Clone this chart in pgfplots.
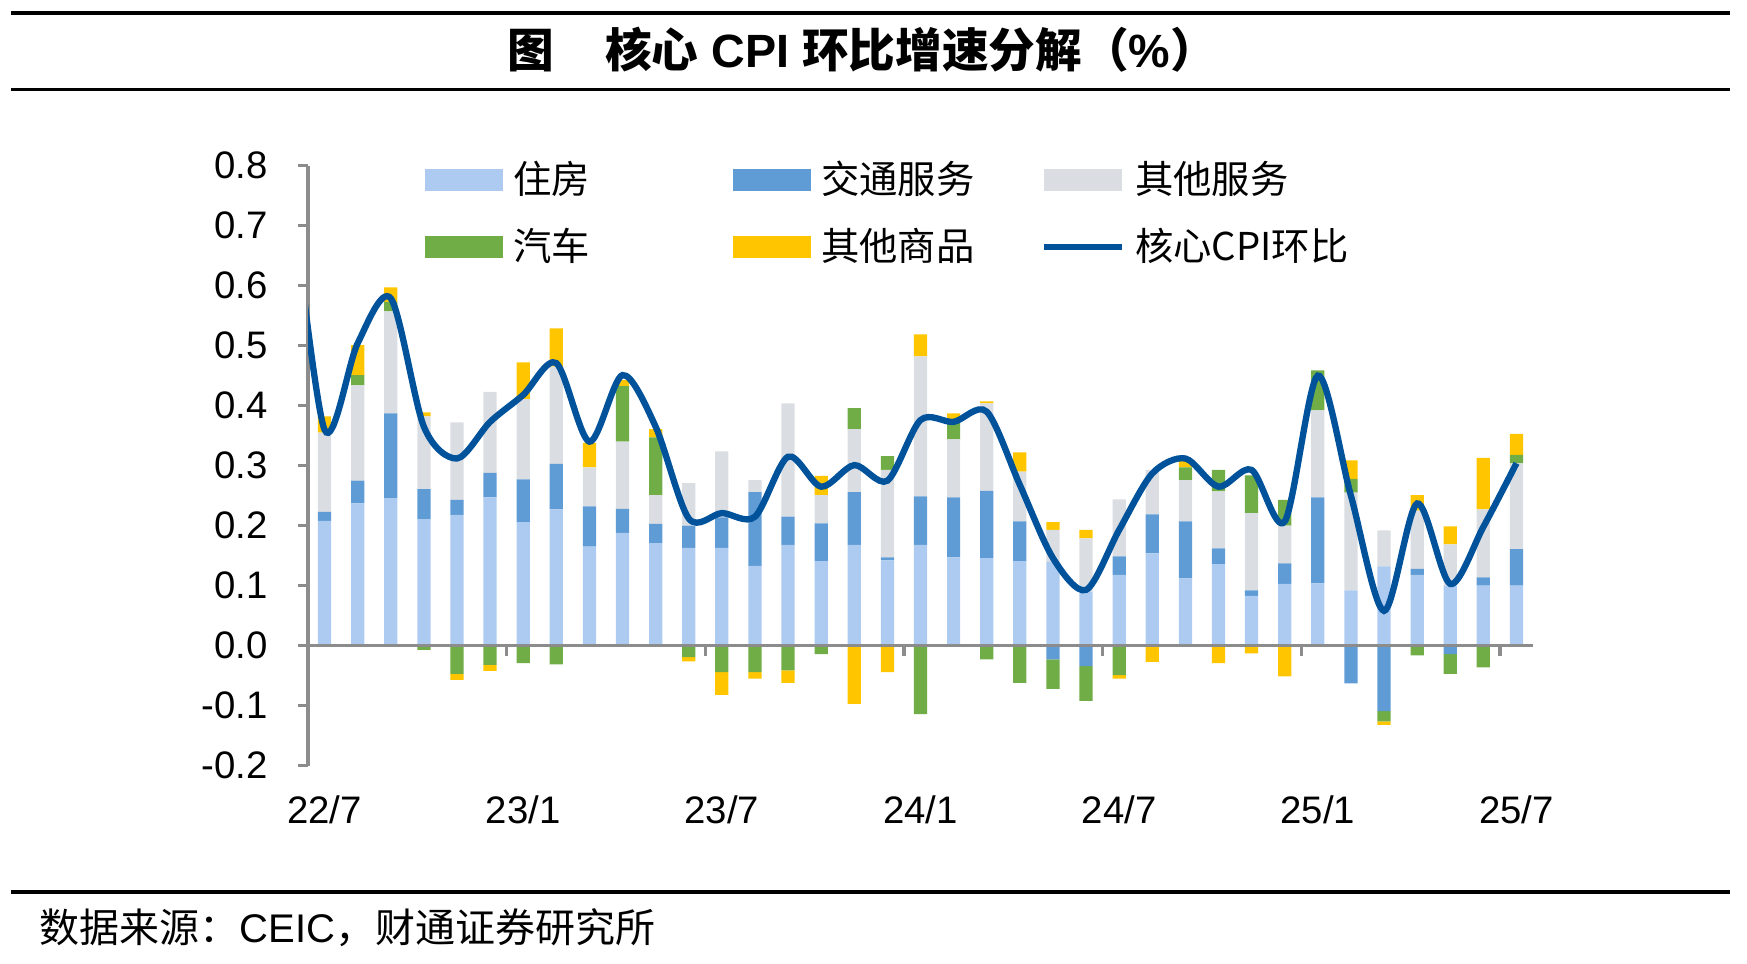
\documentclass[border=0pt]{standalone}
\usepackage{pgfplots}
\pgfplotsset{compat=1.18}
\usepackage{pgfplotstable}
\usepackage{fontspec}
\setmainfont{Liberation Sans}
\newfontfamily\cjk{Noto Sans CJK SC}

\definecolor{housing}{HTML}{ADCBF0}
\definecolor{transport}{HTML}{5F9BD5}
\definecolor{othsvc}{HTML}{DADDE2}
\definecolor{car}{HTML}{70AD47}
\definecolor{othgoods}{HTML}{FFC600}
\definecolor{coreline}{HTML}{00529B}
\definecolor{axisgray}{HTML}{8C8C8C}

% contributions by month, 0 = 2022/7 ... 36 = 2025/7
\pgfplotstableread{
i  lb    mb     gs    car    og
0  0.208 0.015  0.132 0      0.027
1  0.237 0.038  0.159 0.017  0.050
2  0.246 0.141  0.170 0.016  0.024
3  0.211 0.050  0.121 -0.007 0.007
4  0.218 0.025  0.129 -0.047 -0.010
5  0.247 0.041  0.135 -0.032 -0.010
6  0.206 0.071  0.134 -0.029 0.061
7  0.227 0.076  0.162 -0.031 0.064
8  0.165 0.067  0.065 0      0.041
9  0.188 0.040  0.112 0.093  0.010
10 0.171 0.032  0.048 0.096  0.014
11 0.163 0.037  0.071 -0.019 -0.007
12 0.163 0.051  0.110 -0.044 -0.038
13 0.133 0.123  0.020 -0.044 -0.011
14 0.168 0.047  0.189 -0.041 -0.021
15 0.141 0.063  0.047 -0.014 0.032
16 0.168 0.088  0.105 0.035  -0.097
17 0.142 0.005  0.146 0.023  -0.044
18 0.168 0.081  0.233 -0.114 0.037
19 0.147 0.100  0.097 0.032  0.011
20 0.146 0.112  0.146 -0.023 0.003
21 0.141 0.066  0.083 -0.062 0.032
22 0.140 -0.023 0.053 -0.049 0.013
23 0.090 -0.034 0.089 -0.058 0.014
24 0.118 0.031  0.095 -0.049 -0.006
25 0.154 0.065  0.074 0      -0.027
26 0.112 0.095  0.069 0.021  0.012
27 0.136 0.026  0.095 0.036  -0.029
28 0.083 0.009  0.129 0.063  -0.013
29 0.103 0.034  0.063 0.043  -0.051
30 0.104 0.143  0.145 0.067  0
31 0.092 -0.063 0.163 0.023  0.031
32 0.132 -0.109 0.060 -0.017 -0.006
33 0.118 0.010  0.097 -0.016 0.026
34 0.100 -0.014 0.069 -0.033 0.030
35 0.100 0.014  0.113 -0.036 0.086
36 0.100 0.061  0.143 0.014  0.035
}\bars

% core CPI m/m; the point at -1 (2022/6) is clipped by the axis
\pgfplotstableread{
i  core
-1 0.76
0  0.360
1  0.504
2  0.579
3  0.365
4  0.312
5  0.373
6  0.418
7  0.471
8  0.340
9  0.451
10 0.365
11 0.212
12 0.221
13 0.215
14 0.315
15 0.265
16 0.301
17 0.275
18 0.376
19 0.373
20 0.390
21 0.268
22 0.146
23 0.093
24 0.193
25 0.287
26 0.312
27 0.265
28 0.293
29 0.207
30 0.450
31 0.250
32 0.058
33 0.237
34 0.103
35 0.198
36 0.304
}\core

\pgfplotsset{
  frame/.style={scale only axis, width=367.5pt, height=180pt,
    xmin=-0.5, xmax=36.5, ymin=-0.2, ymax=0.8,
    at={(92.4pt,-229.7pt)}, anchor=south west},
  barleg/.style={legend image code/.code={\fill[##1] (0pt,-3.3pt) rectangle (23.4pt,3.3pt);}},
  lineleg/.style={legend image code/.code={\draw[##1] (0pt,0pt) -- (23.4pt,0pt);}},
}

\begin{document}
\begin{tikzpicture}
\path[use as bounding box] (0,0) rectangle (524.1pt,-288.9pt);

% negative parts, stacked downward from zero
\begin{axis}[frame, hide axis, ybar stacked, bar width=0.4]
  \addplot[fill=housing, draw=none] table[x=i, y expr={min(\thisrow{lb},0)}]{\bars};
  \addplot[fill=transport, draw=none] table[x=i, y expr={min(\thisrow{mb},0)}]{\bars};
  \addplot[fill=othsvc, draw=none] table[x=i, y expr={min(\thisrow{gs},0)}]{\bars};
  \addplot[fill=car, draw=none] table[x=i, y expr={min(\thisrow{car},0)}]{\bars};
  \addplot[fill=othgoods, draw=none] table[x=i, y expr={min(\thisrow{og},0)}]{\bars};
\end{axis}

% positive parts, axes and legend
\begin{axis}[frame, ybar stacked, bar width=0.4, axis on top,
  axis y line=left, axis x line=middle,
  axis line style={draw=axisgray, line width=1pt, -},
  hide obscured x ticks=false, hide obscured y ticks=false,
  tick style={draw=axisgray, line width=1pt},
  tick align=outside, major tick length=3pt,
  ytick={-0.2,-0.1,0,0.1,0.2,0.3,0.4,0.5,0.6,0.7,0.8},
  yticklabels={-0.2,-0.1,0.0,0.1,0.2,0.3,0.4,0.5,0.6,0.7,0.8},
  yticklabel style={font=\fontsize{11.5}{12}\selectfont, xshift=-5.5pt},
  xtick={5.5,11.5,17.5,23.5,29.5,35.5}, xticklabels={},
  extra x ticks={0,6,12,18,24,30,36},
  extra x tick labels={22/7,23/1,23/7,24/1,24/7,25/1,25/7},
  extra x tick style={major tick length=0pt,
    xticklabel style={font=\fontsize{11.5}{12}\selectfont, yshift=-41.5pt}},
  legend columns=3,
  legend style={draw=none, fill=none, at={(0.087,1.02)}, anchor=north west,
    font=\cjk\fontsize{11.5}{12}\selectfont, row sep=9pt,
    nodes={inner sep=0pt, anchor=west},
    /tikz/every odd column/.append style={column sep=3pt}},
]
  \addplot[fill=housing, draw=none, barleg] table[x=i, y expr={max(\thisrow{lb},0)}]{\bars};
  \addlegendentry{\makebox[66pt][l]{住房}}
  \addplot[fill=transport, draw=none, barleg] table[x=i, y expr={max(\thisrow{mb},0)}]{\bars};
  \addlegendentry{\makebox[66pt][l]{交通服务}}
  \addplot[fill=othsvc, draw=none, barleg] table[x=i, y expr={max(\thisrow{gs},0)}]{\bars};
  \addlegendentry{\makebox[66pt][l]{其他服务}}
  \addplot[fill=car, draw=none, barleg] table[x=i, y expr={max(\thisrow{car},0)}]{\bars};
  \addlegendentry{\makebox[66pt][l]{汽车}}
  \addplot[fill=othgoods, draw=none, barleg] table[x=i, y expr={max(\thisrow{og},0)}]{\bars};
  \addlegendentry{\makebox[66pt][l]{其他商品}}
  \addlegendimage{draw=coreline, line width=1.8pt, lineleg}
  \addlegendentry{\makebox[66pt][l]{核心CPI环比}}
\end{axis}

% core CPI line on top
\begin{axis}[frame, hide axis]
  \addplot[draw=coreline, line width=1.9pt, smooth, no markers] table[x=i, y=core]{\core};
\end{axis}

% title, rules and source
\draw[line width=1.1pt] (3.3pt,-4pt) -- (519pt,-4pt);
\draw[line width=1.1pt] (3.3pt,-26.9pt) -- (519pt,-26.9pt);
\node at (258.6pt,-15pt) {\fontsize{14}{15}\selectfont\bfseries
  {\cjk 图\hspace{1.1em}核心} CPI {\cjk 环比增速分解（}\%{\cjk ）}};
\draw[line width=1.1pt] (3.3pt,-267.6pt) -- (519pt,-267.6pt);
\node[anchor=west, inner sep=0pt] at (11.7pt,-278.3pt)
  {\fontsize{12}{13}\selectfont{\cjk 数据来源：}CEIC{\cjk ，财通证券研究所}};
\end{tikzpicture}
\end{document}
